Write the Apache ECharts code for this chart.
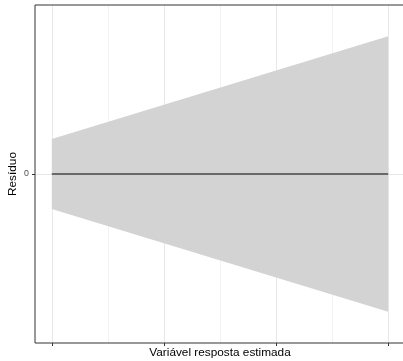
<!DOCTYPE html>
<html><head><meta charset="utf-8">
<script src="https://cdn.jsdelivr.net/npm/echarts@6/dist/echarts.min.js"></script>
<style>html,body{margin:0;padding:0;background:#fff}#c{width:403px;height:361px}</style>
</head><body><div id="c"></div>
<script>
// data
const xValues = [1, 2, 3, 4];
const upperBand = [1.0, 1.98, 2.96, 3.94];
const lowerBand = [-1.0, -1.98, -2.96, -3.94];
const fittedLine = [0, 0, 0, 0];
const xMajorTicks = [1, 2, 3, 4];
const xMinorGrid = [1.5, 2.5, 3.5];
const yTickValues = [0];
const yTickLabels = ['0'];
const xTitle = 'Variável resposta estimada';
const yTitle = 'Resíduo';

const FONT = '"Liberation Sans", Arial, sans-serif';
const chart = echarts.init(document.getElementById('c'), null, {renderer: 'canvas'});

const gridLines = [];
xMajorTicks.forEach(v => gridLines.push({xAxis: v, lineStyle: {color: '#e8e8e8', width: 1, type: 'solid'}}));
xMinorGrid.forEach(v => gridLines.push({xAxis: v, lineStyle: {color: '#f2f2f2', width: 1, type: 'solid'}}));
yTickValues.forEach(v => gridLines.push({yAxis: v, lineStyle: {color: '#e8e8e8', width: 1, type: 'solid'}}));

chart.setOption({
  animation: false,
  grid: {left: 35, right: -2, top: 5, bottom: 18, containLabel: false, outerBoundsMode: 'none',
    show: true, borderColor: '#333', borderWidth: 1, backgroundColor: 'transparent', z: 10},
  graphic: [{
    type: 'text', x: 13, y: 174, rotation: Math.PI / 2, silent: true,
    style: {text: yTitle, fontFamily: FONT, fontSize: 11.8, fill: '#000', textAlign: 'center', textVerticalAlign: 'middle'}
  }],
  xAxis: {
    type: 'value', min: 0.85, max: 4.15, position: 'bottom',
    name: xTitle, nameLocation: 'middle', nameGap: 3.5,
    nameTextStyle: {fontFamily: FONT, fontSize: 11.8, color: '#000'},
    axisLine: {show: false, onZero: false},
    axisTick: {show: true, customValues: xMajorTicks, length: 3, lineStyle: {color: '#333', width: 1}},
    axisLabel: {show: false},
    splitLine: {show: false}
  },
  yAxis: {
    type: 'value', min: -4.83, max: 4.83, position: 'left',
    axisLine: {show: false, onZero: false},
    axisTick: {show: true, customValues: yTickValues, length: 3, lineStyle: {color: '#333', width: 1}},
    axisLabel: {show: true, customValues: yTickValues, margin: 6, fontFamily: FONT, fontSize: 8.8, color: '#4d4d4d',
      formatter: v => { const i = yTickValues.indexOf(v); return i >= 0 ? yTickLabels[i] : ''; }},
    splitLine: {show: false}
  },
  series: [
    {type: 'line', z: 0, data: [[xValues[0], 0]], symbol: 'none', lineStyle: {opacity: 0}, silent: true,
      markLine: {z: 0, silent: true, symbol: ['none', 'none'], label: {show: false}, animation: false, data: gridLines}},
    {type: 'line', z: 2, data: xValues.map((x, i) => [x, upperBand[i]]), symbol: 'none', silent: true,
      lineStyle: {width: 0}, areaStyle: {color: '#d3d3d3', opacity: 1, origin: 0}},
    {type: 'line', z: 2, data: xValues.map((x, i) => [x, lowerBand[i]]), symbol: 'none', silent: true,
      lineStyle: {width: 0}, areaStyle: {color: '#d3d3d3', opacity: 1, origin: 0}},
    {type: 'line', z: 3, data: xValues.map((x, i) => [x, fittedLine[i]]), symbol: 'none', silent: true,
      lineStyle: {color: '#000', width: 1.2}}
  ]
});
</script></body></html>
